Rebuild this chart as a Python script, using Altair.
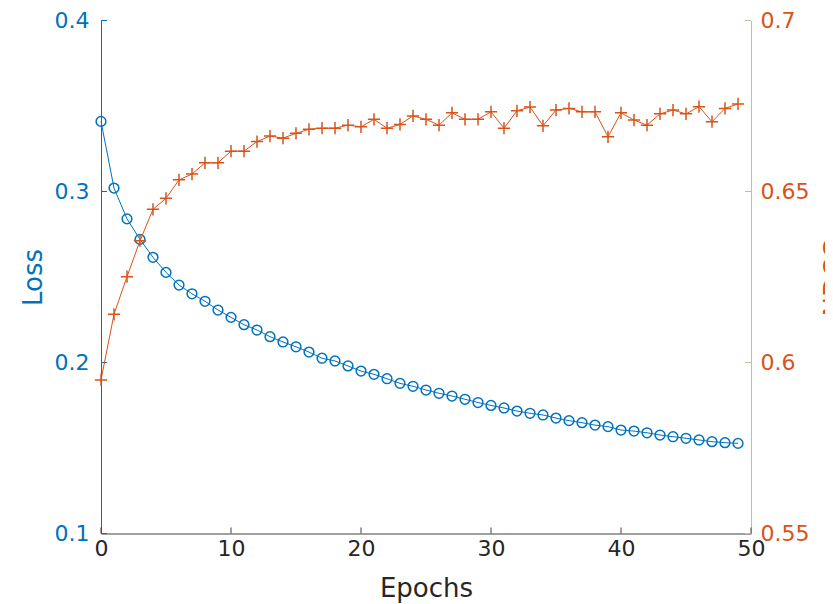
import altair as alt
import pandas as pd

epochs = list(range(50))
loss = [0.341, 0.302, 0.284, 0.272, 0.2615, 0.2527, 0.2453, 0.2402, 0.2358, 0.2307,
        0.2264, 0.2221, 0.2190, 0.2151, 0.2120, 0.2092, 0.2061, 0.2025, 0.2009, 0.1980,
        0.1950, 0.1931, 0.1905, 0.1878, 0.1861, 0.1839, 0.1820, 0.1804, 0.1785, 0.1766,
        0.1749, 0.1734, 0.1716, 0.1703, 0.1693, 0.1675, 0.1660, 0.1648, 0.1634, 0.1625,
        0.1605, 0.1599, 0.1589, 0.1576, 0.1566, 0.1557, 0.1547, 0.1537, 0.1531, 0.1527]
ndcg = [0.5949, 0.6141, 0.6251, 0.6356, 0.6448, 0.6480, 0.6534, 0.6551, 0.6584, 0.6584,
        0.6618, 0.6618, 0.6646, 0.6662, 0.6656, 0.6670, 0.6682, 0.6685, 0.6685, 0.6694,
        0.6689, 0.6711, 0.6685, 0.6696, 0.6721, 0.6711, 0.6694, 0.6730, 0.6711, 0.6711,
        0.6733, 0.6685, 0.6736, 0.6747, 0.6692, 0.6738, 0.6743, 0.6733, 0.6733, 0.6660,
        0.6730, 0.6709, 0.6694, 0.6727, 0.6738, 0.6727, 0.6748, 0.6704, 0.6743, 0.6756]
x_ticks = [0, 10, 20, 30, 40, 50]
loss_ticks = [0.1, 0.2, 0.3, 0.4]
ndcg_ticks = [0.55, 0.6, 0.65, 0.7]

BLUE = "#0072BD"
ORANGE = "#D95319"
DARK = "#262626"
RAXIS = "#d6b795"
FONT = "DejaVu Sans"
W, H = 650, 513

df = pd.DataFrame({"epoch": epochs, "loss": loss, "ndcg": ndcg})
xt = pd.DataFrame({"v": x_ticks})
lt = pd.DataFrame({"v": loss_ticks})
nt = pd.DataFrame({"v": ndcg_ticks})

xscale = alt.Scale(domain=[0, 50], nice=False, zero=False)
lscale = alt.Scale(domain=[0.1, 0.4], nice=False, zero=False)
nscale = alt.Scale(domain=[0.55, 0.7], nice=False, zero=False)

xaxis = alt.Axis(values=x_ticks, format="d", tickSize=0, grid=False,
                 labelFont=FONT, labelFontSize=22, labelColor=DARK, labelPadding=5,
                 labelFlush=False, labelOverlap=False, labelBound=False,
                 domainColor="#404040", domainWidth=1,
                 title="Epochs", titleFont=FONT, titleFontSize=26, titleFontWeight="normal",
                 titleColor=DARK, titleX=W / 2, titleY=63, titleBaseline="alphabetic",
                 titleAlign="center")
laxis = alt.Axis(orient="left", values=loss_ticks, format=".1f", tickSize=0, grid=False,
                 labelFont=FONT, labelFontSize=22, labelColor=BLUE, labelPadding=12,
                 labelFlush=False, labelOverlap=False, labelBound=False,
                 domainColor=BLUE, domainWidth=1,
                 title="Loss", titleFont=FONT, titleFontSize=26, titleFontWeight="normal",
                 titleColor=BLUE, titleAngle=270, titleX=-68, titleY=H / 2,
                 titleBaseline="middle", titleAlign="center")
naxis = alt.Axis(orient="right", values=ndcg_ticks, format="~g", tickSize=0, grid=False,
                 labelFont=FONT, labelFontSize=22, labelColor=ORANGE, labelPadding=9,
                 labelFlush=False, labelOverlap=False, labelBound=False,
                 domainColor=RAXIS, domainWidth=1,
                 title="NDCG", titleFont=FONT, titleFontSize=26, titleFontWeight="normal",
                 titleColor=ORANGE, titleAngle=270, titleX=83, titleY=H / 2,
                 titleBaseline="middle", titleAlign="center")

X = alt.X("epoch:Q", scale=xscale, axis=xaxis)

loss_line = alt.Chart(df).mark_line(color=BLUE, strokeWidth=1).encode(
    x=X, y=alt.Y("loss:Q", scale=lscale, axis=laxis))
loss_pts = alt.Chart(df).mark_point(shape="circle", filled=False, color=BLUE,
                                    size=95, strokeWidth=1.5, opacity=1).encode(
    x=X, y=alt.Y("loss:Q", scale=lscale, axis=laxis))
loss_tk = alt.Chart(lt).mark_rule(color=BLUE, strokeWidth=1).encode(
    y=alt.Y("v:Q", scale=lscale, axis=laxis), x=alt.value(0), x2=alt.value(6))

ndcg_line = alt.Chart(df).mark_line(color=ORANGE, strokeWidth=1).encode(
    x=X, y=alt.Y("ndcg:Q", scale=nscale, axis=naxis))
ndcg_pts = alt.Chart(df).mark_point(shape="M-1,0L1,0M0,-1L0,1", filled=False, color=ORANGE,
                                    size=150, strokeWidth=1.5, opacity=1).encode(
    x=X, y=alt.Y("ndcg:Q", scale=nscale, axis=naxis))
ndcg_tk = alt.Chart(nt).mark_rule(color=RAXIS, strokeWidth=1).encode(
    y=alt.Y("v:Q", scale=nscale, axis=naxis), x=alt.value(W), x2=alt.value(W - 6))

x_tk = alt.Chart(xt).mark_rule(color="#404040", strokeWidth=1).encode(
    x=alt.X("v:Q", scale=xscale, axis=xaxis), y=alt.value(H), y2=alt.value(H - 6))

left = alt.layer(loss_line, loss_pts, loss_tk)
right = alt.layer(ndcg_line, ndcg_pts, ndcg_tk)

chart = alt.layer(left, right, x_tk).resolve_scale(y="independent").properties(
    width=W, height=H,
    autosize=alt.AutoSizeParams(type="none"),
    padding={"left": 93, "top": 12.5, "right": 74, "bottom": 70.5},
    background="white",
).configure_view(stroke=None)

chart.save("out.html", embed_options={"renderer": "svg", "actions": False})
